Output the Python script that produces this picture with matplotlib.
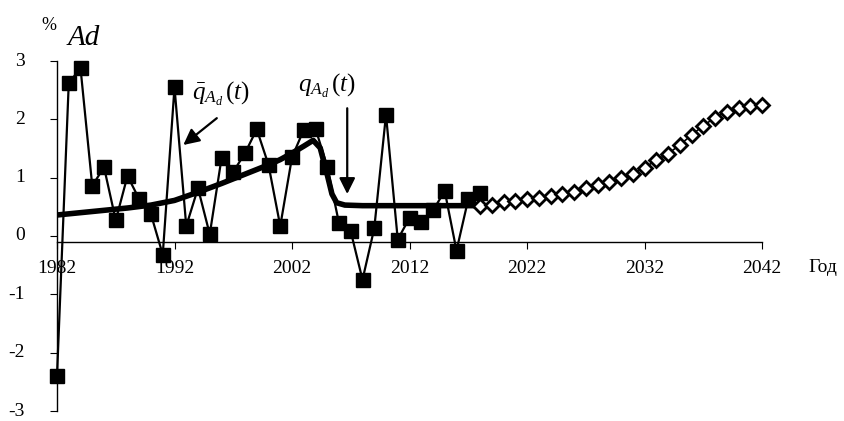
import matplotlib
matplotlib.use("Agg")
import matplotlib.pyplot as plt

# actual values, %
years = list(range(1982, 2019))
actual = [-2.40, 2.62, 2.88, 0.86, 1.18, 0.27, 1.03, 0.63, 0.37, -0.32,
          2.55, 0.17, 0.82, 0.03, 1.33, 1.10, 1.42, 1.83, 1.22, 0.17,
          1.35, 1.82, 1.84, 1.19, 0.22, 0.08, -0.75, 0.13, 2.08, -0.06,
          0.31, 0.24, 0.44, 0.77, -0.25, 0.63, 0.73]

# smoothed trend
trend_years = [1982, 1984, 1986, 1988, 1990, 1992, 1994, 1996, 1998, 2000,
               2001, 2002, 2003, 2003.8, 2004.4, 2005, 2005.4, 2005.8, 2006.5,
               2008, 2012, 2018]
trend = [0.36, 0.40, 0.44, 0.48, 0.53, 0.61, 0.75, 0.90, 1.06, 1.22,
         1.31, 1.42, 1.54, 1.64, 1.51, 1.05, 0.72, 0.57, 0.53,
         0.52, 0.52, 0.52]

# forecast, %
fc_years = list(range(2018, 2043))
forecast = [0.52, 0.54, 0.58, 0.60, 0.63, 0.66, 0.68, 0.72, 0.76, 0.83,
            0.87, 0.93, 0.99, 1.07, 1.17, 1.30, 1.41, 1.56, 1.73, 1.89,
            2.03, 2.13, 2.20, 2.23, 2.24]

xticks = [1982, 1992, 2002, 2012, 2022, 2032, 2042]
yticks = [-3, -2, -1, 0, 1, 2, 3]

plt.rcParams['font.family'] = ['Liberation Serif', 'DejaVu Serif']
plt.rcParams['mathtext.fontset'] = 'custom'
plt.rcParams['mathtext.rm'] = 'Liberation Serif'
plt.rcParams['mathtext.it'] = 'Liberation Serif:italic'

fig = plt.figure(figsize=(8.44, 4.21), dpi=100)
ax = fig.add_axes([57 / 844, 10 / 421, 705 / 844, 350 / 421])

ax.plot(trend_years, trend, color='black', lw=4, solid_capstyle='butt',
        solid_joinstyle='round', zorder=2)
ax.plot(years, actual, color='black', lw=1.6, marker='s', ms=10,
        mfc='black', mec='black', clip_on=False, zorder=3)
ax.plot(fc_years, forecast, color='black', lw=1.2, marker='D', ms=7.5,
        mfc='white', mec='black', mew=2, clip_on=False, zorder=4)

ax.set_xlim(1982, 2042)
ax.set_ylim(-3, 3)
ax.set_xticks(xticks)
ax.set_yticks(yticks)
ax.set_yticklabels([str(v) for v in yticks], va='center')

for s in ['top', 'right']:
    ax.spines[s].set_visible(False)
ax.spines['bottom'].set_position(('data', -0.11))
ax.spines['left'].set_linewidth(1)
ax.spines['bottom'].set_linewidth(1)
ax.tick_params(axis='x', direction='out', length=5, pad=8, labelsize=14)
ax.tick_params(axis='y', direction='out', length=5, pad=18, labelsize=14)

ax.annotate('', xy=(1992.75, 1.56), xytext=(1995.6, 2.02),
            arrowprops=dict(arrowstyle='-|>', color='black', lw=1.6,
                            mutation_scale=24, shrinkA=0, shrinkB=0))
ax.text(1996.0, 2.44, r'$\bar{q}_{A_d}\,(t)$', fontsize=18,
        ha='center', va='center')

ax.annotate('', xy=(2006.7, 0.72), xytext=(2006.7, 2.19),
            arrowprops=dict(arrowstyle='-|>', color='black', lw=1.6,
                            mutation_scale=24, shrinkA=0, shrinkB=0))
ax.text(2005.0, 2.58, r'$q_{A_d}\,(t)$', fontsize=18,
        ha='center', va='center')

fig.text(49 / 844, 1 - 26 / 421, '%', fontsize=13, ha='center', va='center')
fig.text(84 / 844, 1 - 38 / 421, 'Ad', fontsize=21, style='italic',
         ha='center', va='center')
fig.text(823 / 844, 1 - 268 / 421, 'Год', fontsize=14,
         ha='center', va='center')

fig.savefig('out.png', dpi=100)
